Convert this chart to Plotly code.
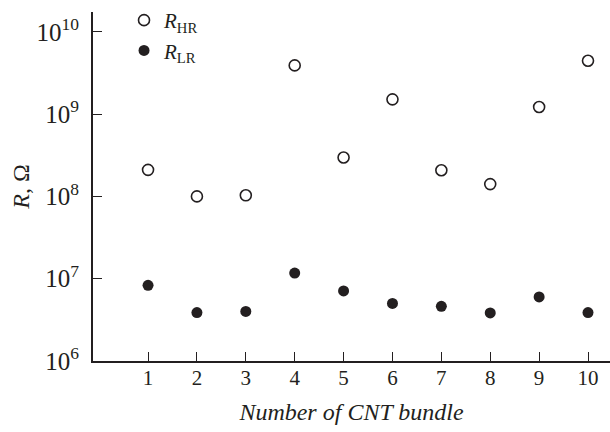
import plotly.graph_objects as go

bundle = [1, 2, 3, 4, 5, 6, 7, 8, 9, 10]
R_HR = [2.1e8, 1.0e8, 1.03e8, 3.9e9, 2.97e8, 1.51e9, 2.08e8, 1.41e8, 1.22e9, 4.44e9]
R_LR = [8.3e6, 3.87e6, 4.0e6, 1.17e7, 7.1e6, 5.0e6, 4.62e6, 3.84e6, 6.0e6, 3.87e6]

INK = "#231f20"
FONT = "Times New Roman, Liberation Serif, serif"

fig = go.Figure()
fig.add_trace(go.Scatter(
    x=bundle, y=R_HR, mode="markers", name="<i>R</i><sub>HR</sub>",
    marker=dict(symbol="circle-open", size=11, color=INK, line=dict(width=1.6, color=INK)),
))
fig.add_trace(go.Scatter(
    x=bundle, y=R_LR, mode="markers", name="<i>R</i><sub>LR</sub>",
    marker=dict(symbol="circle", size=11, color=INK, line=dict(width=0)),
))

fig.update_layout(
    width=610, height=432,
    margin=dict(l=93, r=0, t=12, b=71),
    paper_bgcolor="white", plot_bgcolor="white",
    font=dict(family=FONT, size=20, color=INK),
    showlegend=True,
    legend=dict(x=0.06, y=1.035, xanchor="left", yanchor="top",
                bgcolor="rgba(0,0,0,0)", font=dict(family=FONT, size=21, color=INK),
                itemwidth=30, tracegroupgap=0),
)
fig.update_xaxes(
    range=[-0.126, 10.45], tickvals=bundle, ticktext=[str(v) for v in bundle],
    showgrid=False, zeroline=False, showline=True, linecolor=INK, linewidth=2,
    ticks="inside", ticklen=9, tickwidth=1.3, tickcolor=INK,
    tickfont=dict(family=FONT, size=21, color=INK), ticklabelstandoff=-3,
    title=dict(text="<i>Number of CNT bundle</i>", font=dict(family=FONT, size=24, color=INK), standoff=14),
)
fig.update_yaxes(
    type="log", range=[6, 10.24], dtick=1, exponentformat="power", showexponent="all",
    showgrid=False, zeroline=False, showline=True, linecolor=INK, linewidth=2,
    ticks="inside", ticklen=9, tickwidth=1.3, tickcolor=INK,
    tickfont=dict(family=FONT, size=20, color=INK), ticklabelstandoff=8,
    title=dict(text="<i>R</i>, Ω", font=dict(family=FONT, size=24, color=INK), standoff=0),
)
fig.write_html("out.html")
